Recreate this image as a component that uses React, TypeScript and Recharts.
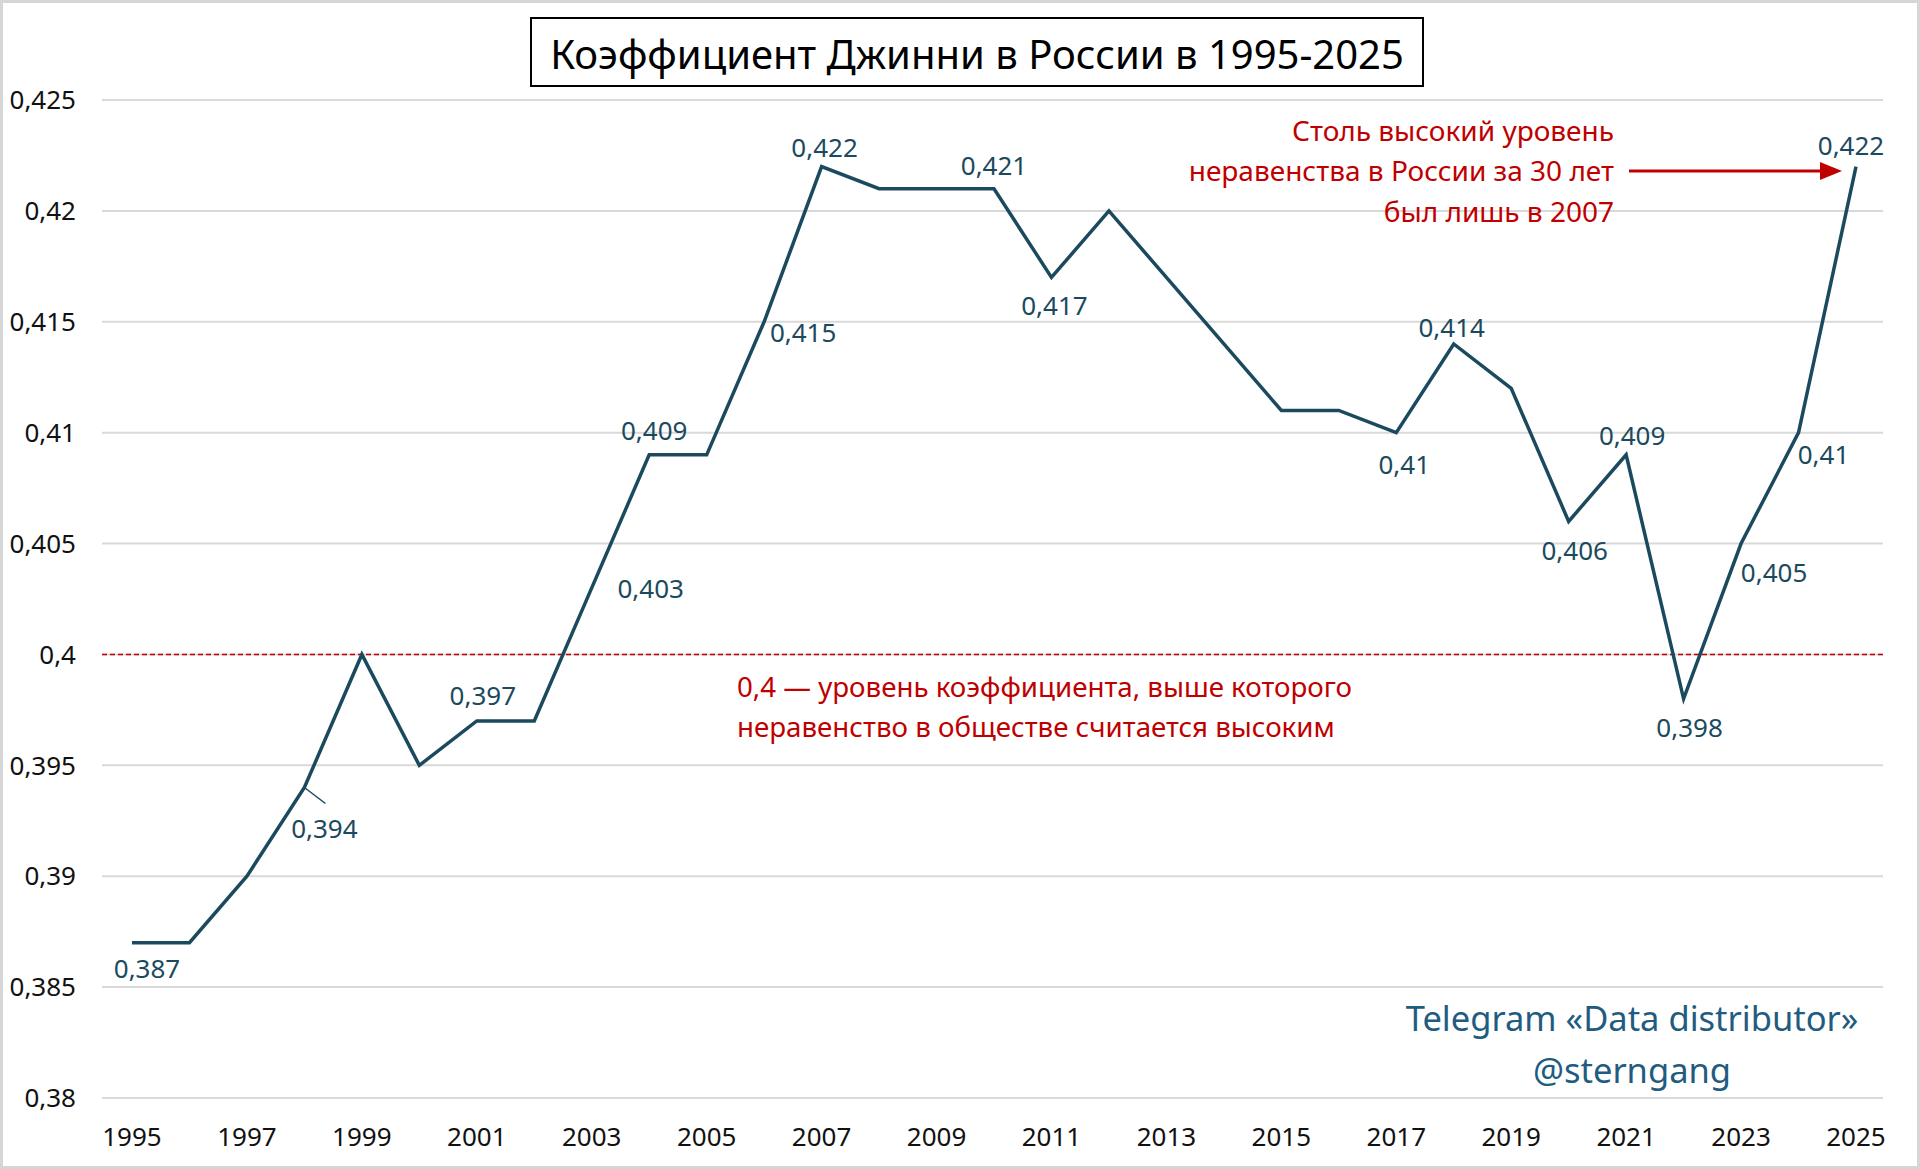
import React from 'react';
import {
    LineChart, Line, XAxis, YAxis, CartesianGrid, ReferenceLine, LabelList
} from 'recharts';

const years = [
    1995, 1996, 1997, 1998, 1999, 2000, 2001, 2002, 2003, 2004, 2005,
    2006, 2007, 2008, 2009, 2010, 2011, 2012, 2013, 2014, 2015, 2016,
    2017, 2018, 2019, 2020, 2021, 2022, 2023, 2024, 2025,
];

const gini = [
    0.387, 0.387, 0.390, 0.394, 0.400, 0.395, 0.397, 0.397, 0.403, 0.409, 0.409,
    0.415, 0.422, 0.421, 0.421, 0.421, 0.417, 0.420, 0.417, 0.414, 0.411, 0.411,
    0.410, 0.414, 0.412, 0.406, 0.409, 0.398, 0.405, 0.410, 0.422,
];

const xTicks = [1995, 1997, 1999, 2001, 2003, 2005, 2007, 2009, 2011, 2013, 2015, 2017, 2019, 2021, 2023, 2025];
const yTicks = [0.38, 0.385, 0.39, 0.395, 0.4, 0.405, 0.41, 0.415, 0.42, 0.425];

const threshold = 0.4;

const data = years.map((year, i) => ({ year, value: gini[i] }));

// where each data label sits relative to its point (px)
const labelOffsets: Record<number, [number, number]> = {
    1995: [15, 25],
    1998: [20, 40],
    2001: [6, -26],
    2003: [59, 0],
    2004: [5, -25],
    2006: [39, 10],
    2007: [3, -20],
    2010: [0, -24],
    2011: [3, 28],
    2017: [8, 31],
    2018: [-2, -17],
    2020: [6, 29],
    2021: [6, -20],
    2022: [6, 28],
    2023: [33, 28],
    2024: [25, 21],
    2025: [-5, -22],
};

const FONT = '"Noto Sans", sans-serif';
const LINE_COLOR = '#1B4A5E';
const RED = '#C00000';

const fmt = (v: number) => String(Number(v.toFixed(3))).replace('.', ',');

const PointLabel = (props: any) => {
    const { x, y, value, index } = props;
    const off = labelOffsets[years[index]];
    if (!off) return null;
    const [dx, dy] = off;
    return (
        <g>
            {years[index] === 1998 && (
                <line x1={x} y1={y} x2={x + 21} y2={y + 16} stroke={LINE_COLOR} strokeWidth={1.5} />
            )}
            <text
                x={x + dx}
                y={y + dy}
                textAnchor="middle"
                dominantBaseline="central"
                fontSize={26}
                fontFamily={FONT}
                fill={LINE_COLOR}
            >
                {fmt(value)}
            </text>
        </g>
    );
};

const App: React.FC = () => {
    return (
        <div style={{ position: 'absolute', left: 0, top: 0, width: 1920, height: 1169, background: '#fff' }}>
            <LineChart
                width={1920}
                height={1169}
                data={data}
                margin={{ top: 100, right: 37, bottom: 11, left: 0 }}
            >
                <CartesianGrid vertical={false} stroke="#D9D9D9" strokeWidth={2} />
                <XAxis
                    dataKey="year"
                    type="number"
                    domain={[1995, 2025]}
                    ticks={xTicks}
                    padding={{ left: 30, right: 27 }}
                    axisLine={false}
                    tickLine={false}
                    tickSize={0}
                    tickMargin={30}
                    height={60}
                    tick={{ fontSize: 26, fontFamily: FONT, fill: '#111' }}
                    interval={0}
                />
                <YAxis
                    domain={[0.38, 0.425]}
                    ticks={yTicks}
                    tickFormatter={fmt}
                    axisLine={false}
                    tickLine={false}
                    tickSize={0}
                    tickMargin={26}
                    width={102}
                    tick={{ fontSize: 26, fontFamily: FONT, fill: '#111' }}
                    interval={0}
                />
                <ReferenceLine y={threshold} stroke={RED} strokeWidth={1.5} strokeDasharray="5 3" />
                <Line
                    type="linear"
                    dataKey="value"
                    stroke={LINE_COLOR}
                    strokeWidth={3.5}
                    dot={false}
                    isAnimationActive={false}
                >
                    <LabelList dataKey="value" content={PointLabel} />
                </Line>
            </LineChart>

            <svg
                width={1920}
                height={1169}
                style={{ position: 'absolute', left: 0, top: 0, pointerEvents: 'none' }}
                fontFamily={FONT}
            >
                <rect x={1.5} y={1.5} width={1917} height={1166} fill="none" stroke="#D6D6D6" strokeWidth={3} />

                <rect x={531} y={18} width={892} height={68} fill="#fff" stroke="#000" strokeWidth={2} />
                <text x={977} y={53} textAnchor="middle" dominantBaseline="central" fontSize={40} fill="#000">
                    Коэффициент Джинни в России в 1995-2025
                </text>

                <g fill={RED} fontSize={28} textAnchor="end">
                    <text x={1614} y={130} dominantBaseline="central">Столь высокий уровень</text>
                    <text x={1614} y={170} dominantBaseline="central">неравенства в России за 30 лет</text>
                    <text x={1614} y={211} dominantBaseline="central">был лишь в 2007</text>
                </g>
                <line x1={1629} y1={171} x2={1822} y2={171} stroke={RED} strokeWidth={3} />
                <polygon points="1842,171 1820,162 1820,180" fill={RED} />

                <g fill={RED} fontSize={27.7}>
                    <text x={737} y={686} dominantBaseline="central">0,4 — уровень коэффициента, выше которого</text>
                    <text x={737} y={726} dominantBaseline="central">неравенство в обществе считается высоким</text>
                </g>

                <g fill="#1F5C80" fontSize={34.5} textAnchor="middle">
                    <text x={1632} y={1017} dominantBaseline="central">Telegram «Data distributor»</text>
                    <text x={1632} y={1069} dominantBaseline="central">@sterngang</text>
                </g>
            </svg>
        </div>
    );
};

export default App;
